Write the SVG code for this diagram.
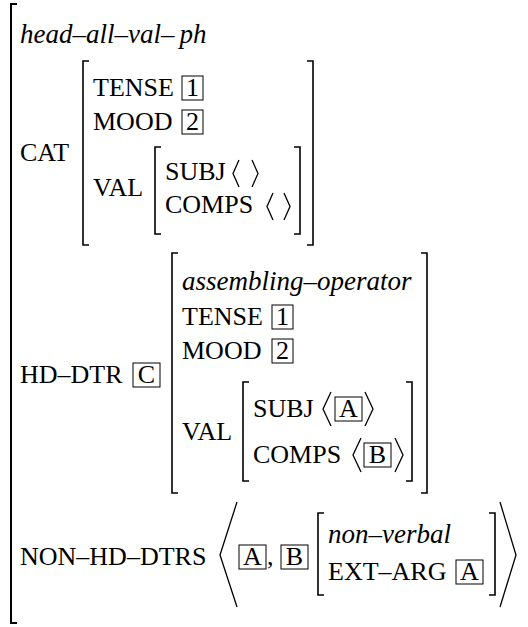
<svg xmlns="http://www.w3.org/2000/svg" width="528" height="627" viewBox="0 0 528 627">
<style>
.t{font-family:"Liberation Serif","Times New Roman",serif;font-size:26px;fill:#000}
.i{font-style:italic;font-size:27px}
.m{text-anchor:middle}
.br{fill:none;stroke:#000;stroke-width:1.6}
.ob{fill:none;stroke:#000;stroke-width:2}
.bx{fill:none;stroke:#000;stroke-width:1}
.ang{fill:none;stroke:#000;stroke-width:1.3}
</style>
<rect width="528" height="627" fill="#fff"/>
<g id="outer">
<path class="ob" d="M17 4H11V623H17"/>
<text class="t i" x="20" y="43">head–all–val–<tspan dx="5">ph</tspan></text>
</g>
<g id="cat">
<text class="t" x="20" y="161">CAT</text>
<path class="br" d="M89 61H83V245H89"/>
<path class="br" d="M307 61H313V245H307"/>
<text class="t" x="93" y="96">TENSE</text>
<rect class="bx" x="182" y="76" width="21" height="24"/>
<text class="t m" x="192.5" y="96">1</text>
<text class="t" x="93" y="130">MOOD</text>
<rect class="bx" x="182" y="110" width="21" height="24"/>
<text class="t m" x="192.5" y="130">2</text>
<g id="cat-val">
<text class="t" x="93" y="196">VAL</text>
<path class="br" d="M161 147H155V234H161"/>
<path class="br" d="M294 147H300V234H294"/>
<text class="t" x="165" y="180">SUBJ</text>
<polyline class="ang" points="239,160 233,173.5 239,187"/>
<polyline class="ang" points="252,160 258,173.5 252,187"/>
<text class="t" x="165" y="213">COMPS</text>
<polyline class="ang" points="273,193 267,206.5 273,220"/>
<polyline class="ang" points="284,193 290,206.5 284,220"/>
</g>
</g>
<g id="hd-dtr">
<text class="t" x="20" y="383">HD–DTR</text>
<rect class="bx" x="133" y="363" width="27" height="24"/>
<text class="t m" x="146.5" y="383">C</text>
<path class="br" d="M178 253H172V493H178"/>
<path class="br" d="M421 253H427V493H421"/>
<text class="t i" x="182" y="290">assembling–operator</text>
<text class="t" x="182" y="325">TENSE</text>
<rect class="bx" x="272" y="305" width="21" height="24"/>
<text class="t m" x="282.5" y="325">1</text>
<text class="t" x="182" y="359">MOOD</text>
<rect class="bx" x="272" y="339" width="21" height="24"/>
<text class="t m" x="282.5" y="359">2</text>
<g id="hd-val">
<text class="t" x="182" y="440">VAL</text>
<path class="br" d="M249 382H243V481H249"/>
<path class="br" d="M406 382H412V481H406"/>
<text class="t" x="253" y="417">SUBJ</text>
<polyline class="ang" points="331,392 323,409 331,426"/>
<rect class="bx" x="335" y="397" width="27" height="24"/>
<text class="t m" x="348.5" y="417">A</text>
<polyline class="ang" points="365,392 373,409 365,426"/>
<text class="t" x="253" y="463">COMPS</text>
<polyline class="ang" points="361,438 353,455 361,472"/>
<rect class="bx" x="364" y="443" width="27" height="24"/>
<text class="t m" x="377.5" y="463">B</text>
<polyline class="ang" points="395,438 403,455 395,472"/>
</g>
</g>
<g id="non-hd-dtrs">
<text class="t" x="20" y="565">NON–HD–DTRS</text>
<polyline class="ang" points="237,502 220,555 237,607"/>
<rect class="bx" x="239" y="545" width="27" height="24"/>
<text class="t m" x="252.5" y="565">A</text>
<text class="t" x="267" y="565">,</text>
<rect class="bx" x="281" y="545" width="27" height="24"/>
<text class="t m" x="294.5" y="565">B</text>
<g id="b-value">
<path class="br" d="M324 513H318V595H324"/>
<path class="br" d="M489 513H495V595H489"/>
<text class="t i" x="328" y="543">non–verbal</text>
<text class="t" x="328" y="580">EXT–ARG</text>
<rect class="bx" x="456" y="560" width="27" height="24"/>
<text class="t m" x="469.5" y="580">A</text>
</g>
<polyline class="ang" points="500,502 516,555 500,607"/>
</g>
</svg>
